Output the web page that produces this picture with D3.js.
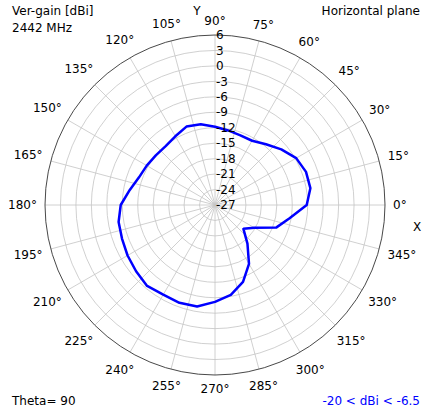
<!DOCTYPE html>
<html>
<head>
<meta charset="utf-8">
<script src="https://cdn.jsdelivr.net/npm/d3@7"></script>
<style>
  body { margin: 0; background: #fff; }
  svg { display: block; font-family: "DejaVu Sans", sans-serif; font-size: 12px; }
</style>
</head>
<body>
<div id="chart"></div>
<script>
// azimuth (deg) and measured gain (dBi), horizontal plane
const angles = [0, 10, 20, 30, 40, 50, 60, 70, 80, 90, 100, 110, 120, 130, 140, 150, 160, 170,
                180, 190, 200, 210, 220, 230, 240, 250, 260, 270, 280, 290, 300, 310, 320, 330, 340, 350];
const gains = [-9.2, -8.2, -8.2, -8.8, -10.2, -11.6, -12.6, -12.6, -12.3, -11.8, -11.1, -10.8, -11.6, -12.1, -12.0, -11.7, -11.3, -10.2,
               -8.7, -8.0, -7.8, -7.4, -7.0, -6.5, -6.9, -6.8, -7.0, -8.2, -9.3, -11.1, -13.8, -17.2, -19.8, -18.2, -14.3, -12.3];
const rTicks = [6, 3, 0, -3, -6, -9, -12, -15, -18, -21, -24, -27];
const thetaTicks = d3.range(0, 360, 15);

const width = 422, height = 412;
const cx = 215, cy = 205, R = 170;

const svg = d3.select("#chart").append("svg")
    .attr("width", width)
    .attr("height", height);

const r = d3.scaleLinear().domain([-27, 6]).range([0, R]);
const toRad = d => (90 - d) * Math.PI / 180;   // d3 radial angle: 0 at top, clockwise

const g = svg.append("g").attr("transform", `translate(${cx},${cy})`);

// grid circles
g.selectAll("circle.grid")
    .data(rTicks.filter(t => t > -27 && t < 6))
    .join("circle")
    .attr("class", "grid")
    .attr("r", d => r(d))
    .style("fill", "none")
    .style("stroke", "#c4c4c4")
    .style("stroke-width", "0.8px");

// spokes
g.selectAll("line.spoke")
    .data(thetaTicks)
    .join("line")
    .attr("class", "spoke")
    .attr("x1", 0).attr("y1", 0)
    .attr("x2", d => R * Math.cos(d * Math.PI / 180))
    .attr("y2", d => -R * Math.sin(d * Math.PI / 180))
    .style("stroke", "#c4c4c4")
    .style("stroke-width", "0.8px");

// outer spine
g.append("circle")
    .attr("r", R)
    .style("fill", "none")
    .style("stroke", "#333")
    .style("stroke-width", "0.9px");

// pattern
const line = d3.lineRadial()
    .angle((d, i) => toRad(angles[i]))
    .radius(d => r(d))
    .curve(d3.curveLinearClosed);

g.append("path")
    .datum(gains)
    .attr("d", line)
    .style("fill", "none")
    .style("stroke", "#0000ff")
    .style("stroke-width", "2.5px")
    .style("stroke-linejoin", "round");

// theta labels: the text box sits a fixed gap outside the spine
g.selectAll("text.theta")
    .data(thetaTicks)
    .join("text")
    .attr("class", "theta")
    .attr("text-anchor", "middle")
    .attr("dy", "0.35em")
    .text(d => d + "°")
    .each(function(d) {
        let a = d * Math.PI / 180;
        let hw = this.getComputedTextLength() / 2;
        let rr = 178 + hw * Math.abs(Math.cos(a)) + 6 * Math.abs(Math.sin(a));
        d3.select(this)
            .attr("x", rr * Math.cos(a))
            .attr("y", -rr * Math.sin(a));
    });

// radial labels
g.selectAll("text.rlab")
    .data(rTicks)
    .join("text")
    .attr("class", "rlab")
    .attr("x", 1)
    .attr("y", d => -r(d))
    .attr("dy", "0.35em")
    .text(d => d);

// annotations
svg.append("text").attr("x", 12).attr("y", 15).text("Ver-gain [dBi]");
svg.append("text").attr("x", 12).attr("y", 32).text("2442 MHz");
svg.append("text").attr("x", 420).attr("y", 15).attr("text-anchor", "end").text("Horizontal plane");
svg.append("text").attr("x", 197).attr("y", 15).attr("text-anchor", "middle").text("Y");
svg.append("text").attr("x", 417).attr("y", 231).attr("text-anchor", "middle").text("X");
svg.append("text").attr("x", 12).attr("y", 405).text("Theta= 90");
svg.append("text").attr("x", 420).attr("y", 405).attr("text-anchor", "end")
    .style("fill", "#0000ff").text("-20 < dBi < -6.5");
</script>
</body>
</html>
